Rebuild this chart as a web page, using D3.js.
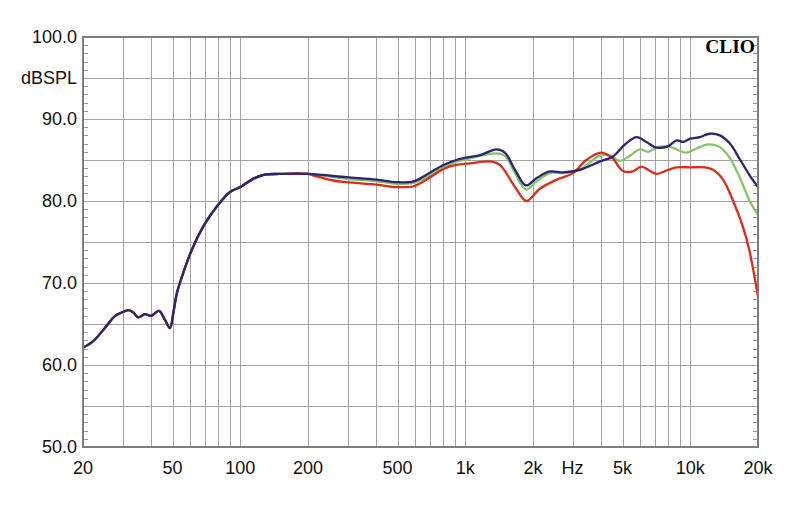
<!DOCTYPE html>
<html><head><meta charset="utf-8">
<script src="https://cdn.jsdelivr.net/npm/d3@7"></script>
<style>html,body{margin:0;padding:0;background:#fff;}svg{display:block;}</style>
</head><body>
<script>
// ---- data (Hz, dB SPL) ----
const commonLow = [[20,62.1],[22.2,62.9],[25,64.5],[27.8,66.0],[29.7,66.4],[31.8,66.7],[33.5,66.4],[35.2,65.8],[37.7,66.2],[40.1,66.0],[43.5,66.6],[46.3,65.5],[48.7,64.5],[50.5,66.5],[52.2,68.7],[53.9,70.0],[60.8,74.0],[68.5,76.9],[78.5,79.3],[90,81.1],[100,81.7],[114,82.7],[127,83.2],[150,83.3],[200,83.3]];
const navyHigh = [[297,82.9],[404,82.6],[496,82.3],[588,82.4],[672,83.2],[800,84.4],[912,85.0],[1012,85.3],[1165,85.6],[1377,86.3],[1500,85.9],[1664,83.8],[1860,81.9],[2076,82.8],[2376,83.6],[2720,83.5],[3226,83.8],[3952,84.8],[4520,85.4],[5172,87.0],[5780,87.8],[6380,87.2],[7080,86.5],[7980,86.7],[8700,87.4],[9300,87.2],[10000,87.6],[11040,87.8],[12220,88.2],[13540,88.0],[15000,87.0],[16520,85.2],[18300,83.2],[20000,81.7]];
const greenHigh = [[297,82.7],[404,82.4],[496,82.1],[588,82.2],[672,82.9],[800,84.1],[912,84.8],[1012,85.1],[1377,85.8],[1500,85.5],[1664,83.4],[1860,81.4],[2076,82.4],[2376,83.4],[2720,83.4],[3226,83.8],[3952,85.5],[4380,85.6],[4860,84.9],[5380,85.5],[5960,86.3],[6500,86.0],[7200,86.6],[8120,86.6],[9620,85.9],[10640,86.4],[11980,86.9],[13260,86.7],[14680,85.6],[16520,83.0],[18300,80.1],[20000,78.3]];
const redHigh = [[218,83.0],[259,82.5],[297,82.3],[404,82.0],[496,81.7],[588,81.8],[672,82.6],[800,83.9],[912,84.4],[1050,84.6],[1310,84.8],[1426,84.4],[1664,81.7],[1870,80.0],[2146,81.5],[2548,82.6],[3016,83.4],[3452,85.0],[4020,85.9],[4520,85.2],[5000,83.7],[5560,83.6],[6060,84.2],[6600,83.7],[7080,83.3],[7980,83.8],[8700,84.1],[10000,84.1],[11620,84.1],[12640,83.8],[13980,82.6],[15460,80.1],[17120,76.9],[18300,74.0],[20000,68.3]];

const xTickLabels = [[20,"20"],[50,"50"],[100,"100"],[200,"200"],[500,"500"],[1000,"1k"],[2000,"2k"],[3000,"Hz"],[5000,"5k"],[10000,"10k"],[20000,"20k"]];
const yTickLabels = [[100,"100.0"],[95,"dBSPL"],[90,"90.0"],[80,"80.0"],[70,"70.0"],[60,"60.0"],[50,"50.0"]];

const series = [
  {name:"green", color:"#86c46a", data: commonLow.concat(greenHigh)},
  {name:"red",   color:"#de2a16", data: commonLow.concat(redHigh)},
  {name:"navy",  color:"#2a2674", data: commonLow.concat(navyHigh)}
];

// ---- chart ----
const W = 800, H = 507;
const L = 83, R = 758, T = 37, B = 447;
const svg = d3.select("body").append("svg").attr("width", W).attr("height", H);
svg.append("rect").attr("width", W).attr("height", H).attr("fill", "#fff");

const x = d3.scaleLog().domain([20, 20000]).range([L, R]);
const y = d3.scaleLinear().domain([50, 100]).range([B, T]);

const grid = svg.append("g");
grid.selectAll("line.v").data(x.ticks()).join("line")
  .attr("x1", d => Math.round(x(d)) + 0.5).attr("x2", d => Math.round(x(d)) + 0.5)
  .attr("y1", T).attr("y2", B).attr("stroke", "#a3a3a3").attr("stroke-width", 1);
grid.selectAll("line.h").data(d3.range(50, 101, 5)).join("line")
  .attr("y1", d => Math.round(y(d)) + 0.5).attr("y2", d => Math.round(y(d)) + 0.5)
  .attr("x1", L).attr("x2", R).attr("stroke", "#a3a3a3").attr("stroke-width", 1);

// minor ticks every 1 dB on both side edges
const minor = d3.range(50, 101, 1).filter(d => d % 5 !== 0);
grid.selectAll("line.ml").data(minor).join("line")
  .attr("x1", L).attr("x2", L + 5)
  .attr("y1", d => Math.round(y(d)) + 0.5).attr("y2", d => Math.round(y(d)) + 0.5)
  .attr("stroke", "#9a9a9a");
grid.selectAll("line.mr").data(minor).join("line")
  .attr("x1", R - 5).attr("x2", R)
  .attr("y1", d => Math.round(y(d)) + 0.5).attr("y2", d => Math.round(y(d)) + 0.5)
  .attr("stroke", "#9a9a9a");

// curves
const line = d3.line().x(d => x(d[0])).y(d => y(d[1])).curve(d3.curveCatmullRom.alpha(0.5));
svg.append("g").selectAll("path").data(series).join("path")
  .attr("d", d => line(d.data)).attr("fill", "none")
  .attr("stroke", d => d.color).attr("stroke-width", 2.3)
  .attr("stroke-linejoin", "round").attr("stroke-linecap", "round");

// frame
svg.append("rect").attr("x", L).attr("y", T).attr("width", R - L).attr("height", B - T)
  .attr("fill", "none").attr("stroke", "#7d7d7d").attr("stroke-width", 2);

// labels
const font = "'Liberation Sans', Arial, sans-serif";
svg.append("g").selectAll("text").data(yTickLabels).join("text")
  .attr("x", 77).attr("y", d => y(d[0])).attr("dy", "0.36em")
  .attr("text-anchor", "end").attr("font-family", font).attr("font-size", 18)
  .attr("fill", "#111").text(d => d[1]);
svg.append("g").selectAll("text").data(xTickLabels).join("text")
  .attr("x", d => x(d[0])).attr("y", 474)
  .attr("text-anchor", "middle").attr("font-family", font).attr("font-size", 18)
  .attr("fill", "#111").text(d => d[1]);

svg.append("text").attr("x", 755).attr("y", 53).attr("text-anchor", "end")
  .attr("font-family", "'Liberation Serif', 'Times New Roman', serif")
  .attr("font-weight", "bold").attr("font-size", 19.5).attr("fill", "#000").text("CLIO");
</script>
</body></html>
